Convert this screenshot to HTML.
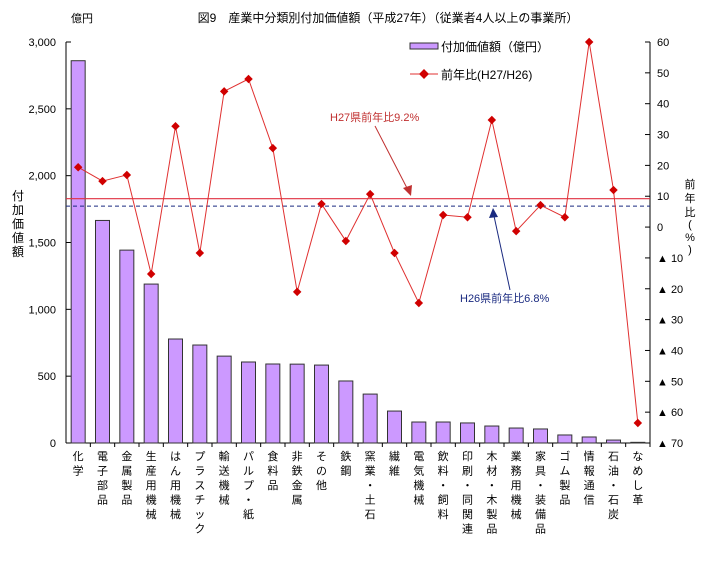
<!DOCTYPE html>
<html><head><meta charset="utf-8"><style>
body{margin:0;background:#fff;font-family:"Liberation Sans","Noto Sans CJK JP",sans-serif;}
svg text{font-family:"Liberation Sans","Noto Sans CJK JP",sans-serif;}
</style></head><body>
<svg id="c" width="703" height="559" xmlns="http://www.w3.org/2000/svg">
<text x="388" y="22" font-size="12" text-anchor="middle" fill="#000">図9　産業中分類別付加価値額（平成27年）（従業者4人以上の事業所）</text>
<text x="82" y="22" font-size="11" text-anchor="middle">億円</text>
<text font-size="12">
<tspan x="12" y="200">付</tspan><tspan x="12" y="214">加</tspan><tspan x="12" y="228">価</tspan><tspan x="12" y="242">値</tspan><tspan x="12" y="256">額</tspan></text>
<text font-size="11" text-anchor="middle">
<tspan x="690" y="188">前</tspan><tspan x="690" y="202">年</tspan><tspan x="690" y="216">比</tspan><tspan x="690" y="228">(</tspan><tspan x="690" y="241">%</tspan><tspan x="690" y="253">)</tspan></text>
<g id="g"></g>
<g>
<rect x="410" y="43" width="28" height="6" fill="#cc99ff" stroke="#333" stroke-width="1"/>
<text x="441" y="51" font-size="12">付加価値額（億円）</text>
<line x1="410" y1="74" x2="438" y2="74" stroke="#e03030" stroke-width="1"/>
<rect x="420.5" y="70.5" width="7" height="7" fill="#d00000" transform="rotate(45 424 74)"/>
<text x="441" y="79" font-size="12">前年比(H27/H26)</text>
</g>
<text x="330" y="121" font-size="11" fill="#c03030">H27県前年比9.2%</text>
<line x1="375" y1="126" x2="408" y2="190" stroke="#c03030" stroke-width="1"/>
<polygon points="411,196 403,188 412,185" fill="#c03030"/>
<text x="460" y="302" font-size="11" fill="#1a2a80">H26県前年比6.8%</text>
<line x1="510" y1="290" x2="494" y2="216" stroke="#1a2a80" stroke-width="1"/>
<polygon points="493,208 489,218 498,217" fill="#1a2a80"/>
</svg>
<script>
const categories=["化学","電子部品","金属製品","生産用機械","はん用機械","プラスチック","輸送機械","パルプ・紙","食料品","非鉄金属","その他","鉄鋼","窯業・土石","繊維","電気機械","飲料・飼料","印刷・同関連","木材・木製品","業務用機械","家具・装備品","ゴム製品","情報通信","石油・石炭","なめし革"];
const values=[2860,1665,1443,1189,778,733,650,606,591,590,583,464,366,239,157,157,150,127,112,105,60,45,22,5];
const ratios=[19.4,14.9,16.9,-15.2,32.7,-8.4,44,48,25.6,-21,7.5,-4.5,10.7,-8.4,-24.6,3.9,3.2,34.7,-1.3,7.1,3.2,60,12,-63.5];
const leftTicks=[0,500,1000,1500,2000,2500,3000];
const rightTicks=[60,50,40,30,20,10,0,-10,-20,-30,-40,-50,-60,-70];
const refH27=9.2, refH26=6.8;
const NS="http://www.w3.org/2000/svg";
const g=document.getElementById('g');
const X0=66,X1=650,YT=42,YB=443;
const step=(X1-X0)/categories.length;
const yL=v=>YB-(v/3000)*(YB-YT);
const yR=v=>YT+(60-v)/130*(YB-YT);
const xC=i=>X0+step*(i+0.5);
function el(t,a){const e=document.createElementNS(NS,t);for(const k in a)e.setAttribute(k,a[k]);g.appendChild(e);return e;}
// axes
let a=el('line',{x1:X0,y1:YT,x2:X0,y2:YB,stroke:'#000'});

a=el('line',{x1:X1,y1:YT,x2:X1,y2:YB,stroke:'#000'});

a=el('line',{x1:X0,y1:YB,x2:X1,y2:YB,stroke:'#000'});

leftTicks.forEach(v=>{
  el('line',{x1:X0,y1:yL(v),x2:X0+5,y2:yL(v),stroke:'#000'});
  const t=el('text',{x:X0-10,y:yL(v)+4,'font-size':11,'text-anchor':'end'});
  
  t.textContent=v.toLocaleString('en-US');
});
rightTicks.forEach(v=>{
  el('line',{x1:X1-5,y1:yR(v),x2:X1,y2:yR(v),stroke:'#000'});
  const t=el('text',{x:X1+7,y:yR(v)+4,'font-size':11});
  
  t.textContent=v<0?'▲ '+(-v):String(v);
});
categories.forEach((c,i)=>{
  el('line',{x1:X0+step*(i+1),y1:YB,x2:X0+step*(i+1),y2:YB+4,stroke:'#000'});
  const r=el('rect',{x:xC(i)-7,y:yL(values[i]),width:14,height:YB-yL(values[i]),fill:'#cc99ff',stroke:'#333','stroke-width':1});
  
  const t=el('text',{x:xC(i),y:YB+16,'font-size':11,'text-anchor':'middle'});
  
  [...c].forEach((ch,k)=>{const s=document.createElementNS(NS,'tspan');s.setAttribute('x',xC(i));s.setAttribute('y',YB+17+k*14.5);s.textContent=ch;t.appendChild(s);});
});
// ref lines
let l=el('line',{x1:X0,y1:yR(refH27),x2:X1,y2:yR(refH27),stroke:'#e03040','stroke-width':1.2});

l=el('line',{x1:X0,y1:yR(refH26),x2:X1,y2:yR(refH26),stroke:'#1a2a80','stroke-dasharray':'4,3'});

const p=el('polyline',{points:ratios.map((v,i)=>xC(i)+','+yR(v)).join(' '),fill:'none',stroke:'#e03030','stroke-width':1});

ratios.forEach((v,i)=>{
  const d=el('rect',{x:xC(i)-3,y:yR(v)-3,width:6,height:6,fill:'#d00000',transform:`rotate(45 ${xC(i)} ${yR(v)})`});
  
});
</script>
</body></html>
